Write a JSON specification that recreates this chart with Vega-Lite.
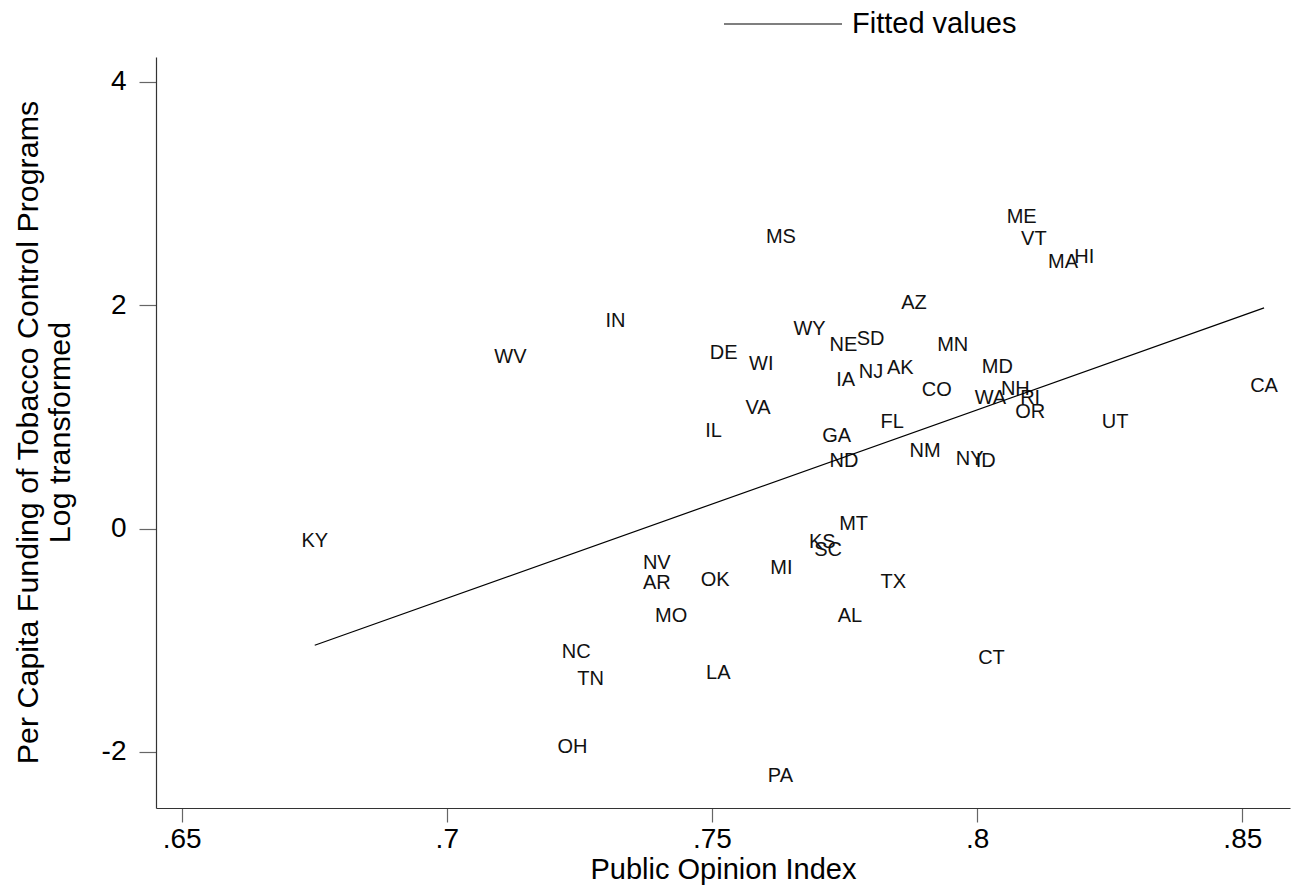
{
  "$schema": "https://vega.github.io/schema/vega-lite/v6.json",
  "autosize": {"type": "none"},
  "padding": {"left": 156, "top": 57, "right": 6, "bottom": 82},
  "width": 1134,
  "height": 751,
  "background": "white",
  "config": {
    "view": {"stroke": null},
    "font": "Liberation Sans",
    "axis": {
      "grid": false,
      "domainColor": "#333333",
      "domainWidth": 1.2,
      "tickColor": "#666666",
      "tickWidth": 1.2,
      "labelColor": "black",
      "titleColor": "black",
      "labelFont": "Liberation Sans",
      "titleFont": "Liberation Sans",
      "labelFontSize": 28,
      "titleFontSize": 29,
      "titleFontWeight": "normal"
    }
  },
  "datasets": {
    "states": [
      {"state": "ME", "opinion": 0.8084, "funding": 2.791},
      {"state": "VT", "opinion": 0.8107, "funding": 2.589},
      {"state": "MA", "opinion": 0.8162, "funding": 2.388},
      {"state": "HI", "opinion": 0.8202, "funding": 2.433},
      {"state": "MS", "opinion": 0.7630, "funding": 2.612},
      {"state": "AZ", "opinion": 0.7881, "funding": 2.022},
      {"state": "IN", "opinion": 0.7318, "funding": 1.857},
      {"state": "WY", "opinion": 0.7684, "funding": 1.791},
      {"state": "NE", "opinion": 0.7748, "funding": 1.642},
      {"state": "SD", "opinion": 0.7799, "funding": 1.697},
      {"state": "WV", "opinion": 0.7120, "funding": 1.534},
      {"state": "DE", "opinion": 0.7522, "funding": 1.575},
      {"state": "WI", "opinion": 0.7593, "funding": 1.474},
      {"state": "MN", "opinion": 0.7954, "funding": 1.646},
      {"state": "MD", "opinion": 0.8038, "funding": 1.445},
      {"state": "IA", "opinion": 0.7752, "funding": 1.333},
      {"state": "NJ", "opinion": 0.7800, "funding": 1.398},
      {"state": "AK", "opinion": 0.7855, "funding": 1.440},
      {"state": "CO", "opinion": 0.7924, "funding": 1.239},
      {"state": "NH", "opinion": 0.8072, "funding": 1.246},
      {"state": "WA", "opinion": 0.8025, "funding": 1.172},
      {"state": "RI", "opinion": 0.8100, "funding": 1.172},
      {"state": "OR", "opinion": 0.8100, "funding": 1.048},
      {"state": "CA", "opinion": 0.8541, "funding": 1.276},
      {"state": "VA", "opinion": 0.7587, "funding": 1.079},
      {"state": "UT", "opinion": 0.8260, "funding": 0.955},
      {"state": "FL", "opinion": 0.7840, "funding": 0.958},
      {"state": "IL", "opinion": 0.7503, "funding": 0.878},
      {"state": "GA", "opinion": 0.7735, "funding": 0.825},
      {"state": "NM", "opinion": 0.7902, "funding": 0.697},
      {"state": "ND", "opinion": 0.7749, "funding": 0.605},
      {"state": "NY", "opinion": 0.7986, "funding": 0.619},
      {"state": "ID", "opinion": 0.8016, "funding": 0.605},
      {"state": "MT", "opinion": 0.7767, "funding": 0.040},
      {"state": "KY", "opinion": 0.6751, "funding": -0.112},
      {"state": "KS", "opinion": 0.7708, "funding": -0.121},
      {"state": "SC", "opinion": 0.7719, "funding": -0.194},
      {"state": "NV", "opinion": 0.7396, "funding": -0.309},
      {"state": "MI", "opinion": 0.7631, "funding": -0.351},
      {"state": "AR", "opinion": 0.7396, "funding": -0.485},
      {"state": "OK", "opinion": 0.7506, "funding": -0.459},
      {"state": "TX", "opinion": 0.7842, "funding": -0.475},
      {"state": "MO", "opinion": 0.7423, "funding": -0.784},
      {"state": "AL", "opinion": 0.7760, "funding": -0.784},
      {"state": "NC", "opinion": 0.7244, "funding": -1.108},
      {"state": "CT", "opinion": 0.8027, "funding": -1.162},
      {"state": "LA", "opinion": 0.7512, "funding": -1.294},
      {"state": "TN", "opinion": 0.7271, "funding": -1.350},
      {"state": "OH", "opinion": 0.7237, "funding": -1.956},
      {"state": "PA", "opinion": 0.7629, "funding": -2.217}
    ],
    "fit": [
      {"opinion": 0.6751, "fitted": -1.045, "series": "Fitted values"},
      {"opinion": 0.8541, "fitted": 1.976, "series": "Fitted values"}
    ]
  },
  "layer": [
    {
      "data": {"name": "states"},
      "mark": {"type": "text", "font": "Liberation Sans", "fontSize": 20, "color": "#111111", "align": "center", "baseline": "middle"},
      "encoding": {
        "x": {
          "field": "opinion", "type": "quantitative",
          "scale": {"domain": [0.64517, 0.85899], "nice": false, "zero": false},
          "axis": {
            "values": [0.65, 0.7, 0.75, 0.8, 0.85],
            "labelExpr": "substring(format(datum.value, '.2~f'), 1)",
            "tickSize": 14,
            "labelPadding": 3,
            "title": "Public Opinion Index",
            "titleY": 70,
            "titleBaseline": "alphabetic"
          }
        },
        "y": {
          "field": "funding", "type": "quantitative",
          "scale": {"domain": [-2.503, 4.2234], "nice": false, "zero": false},
          "axis": {
            "values": [-2, 0, 2, 4],
            "labelExpr": "toString(datum.value)",
            "tickSize": 17,
            "labelPadding": 13,
            "title": ["Per Capita Funding of Tobacco Control Programs", "Log transformed"],
            "titleFontSize": 30.4,
            "titleAngle": -90,
            "titleAlign": "center",
            "titleBaseline": "middle",
            "titleLineHeight": 32,
            "titleX": -128,
            "titleY": 375
          }
        },
        "text": {"field": "state"}
      }
    },
    {
      "data": {"name": "fit"},
      "mark": {"type": "line", "strokeWidth": 1.2},
      "encoding": {
        "x": {"field": "opinion", "type": "quantitative"},
        "y": {"field": "fitted", "type": "quantitative"},
        "color": {
          "field": "series", "type": "nominal",
          "scale": {"range": ["black"]},
          "legend": {
            "orient": "none",
            "legendX": 567,
            "legendY": -93,
            "title": null,
            "padding": 0,
            "symbolType": "stroke",
            "symbolSize": 13924,
            "symbolStrokeWidth": 1.2,
            "labelFontSize": 29,
            "labelFont": "Liberation Sans",
            "labelColor": "black",
            "labelOffset": 9,
            "labelLimit": 400
          }
        }
      }
    }
  ]
}
